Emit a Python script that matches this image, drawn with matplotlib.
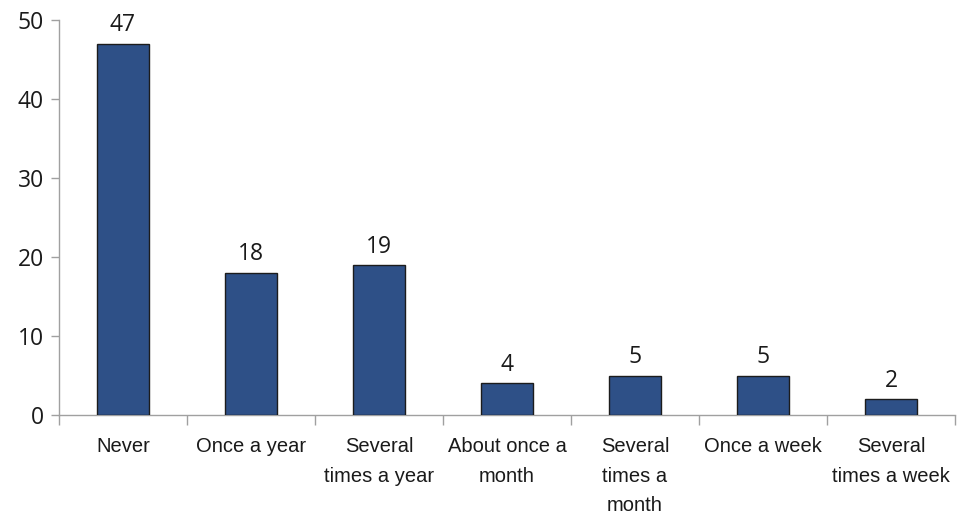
import matplotlib
matplotlib.use("Agg")
import matplotlib.pyplot as plt
from matplotlib.ticker import FixedLocator, NullFormatter, FixedFormatter

categories = ["Never", "Once a year", "Several\ntimes a year", "About once a\nmonth",
              "Several\ntimes a\nmonth", "Once a week", "Several\ntimes a week"]
values = [47, 18, 19, 4, 5, 5, 2]
yticks = [0, 10, 20, 30, 40, 50]

fig = plt.figure(figsize=(9.6, 5.17), dpi=100)
ax = fig.add_axes([59/960, 1 - 415/517, (955-59)/960, (415-20)/517])

x = list(range(len(categories)))
bars = ax.bar(x, values, width=0.4, color="#2E5087", edgecolor="#1c1c1c", linewidth=1.0, zorder=3)

ax.set_xlim(-0.5, len(categories) - 0.5)
ax.set_ylim(0, 50)

for xi, v in zip(x, values):
    ax.text(xi, v + 0.8, str(v), ha="center", va="bottom", fontsize=16.5,
            family=["Open Sans", "DejaVu Sans"], color="#1a1a1a")

ax.set_yticks(yticks)
ax.set_yticklabels([str(t) for t in yticks], fontsize=16.5, family=["Open Sans", "DejaVu Sans"], color="#1a1a1a")
ax.tick_params(axis="y", length=6, width=1, color="#a0a0a0", pad=5)

# category boundary ticks
bounds = [i - 0.5 for i in range(len(categories) + 1)]
ax.xaxis.set_major_locator(FixedLocator(bounds))
ax.xaxis.set_major_formatter(NullFormatter())
ax.xaxis.set_minor_locator(FixedLocator(x))
ax.xaxis.set_minor_formatter(FixedFormatter(categories))
ax.tick_params(axis="x", which="major", length=7, width=1, color="#a0a0a0")
ax.tick_params(axis="x", which="minor", length=0, pad=16)
for lab in ax.get_xticklabels(minor=True):
    lab.set_fontsize(14.5)
    lab.set_family(["Liberation Sans Narrow", "Liberation Sans", "DejaVu Sans"])
    lab.set_linespacing(1.7)
    lab.set_color("#1a1a1a")
    lab.set_verticalalignment("top")

for s in ["top", "right"]:
    ax.spines[s].set_visible(False)
ax.spines["left"].set_color("#a0a0a0")
ax.spines["bottom"].set_color("#a0a0a0")
ax.spines["left"].set_linewidth(1)
ax.spines["bottom"].set_linewidth(1)

fig.savefig("out.png", dpi=100)
